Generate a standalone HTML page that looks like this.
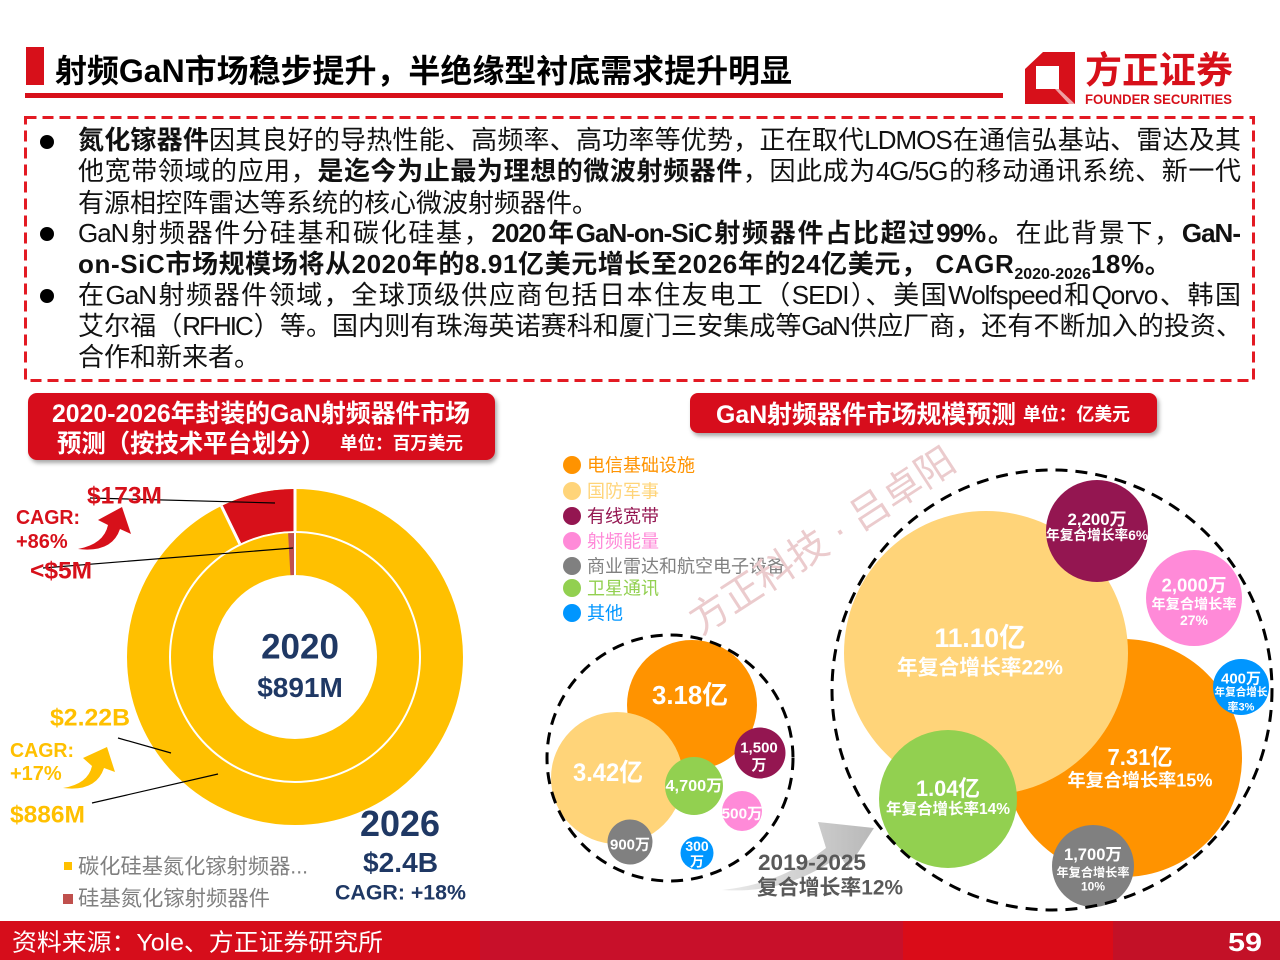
<!DOCTYPE html>
<html><head><meta charset="utf-8">
<style>
html,body{margin:0;padding:0;background:#fff;}
body{width:1280px;height:960px;position:relative;overflow:hidden;font-family:"Liberation Sans","Noto Sans CJK SC",sans-serif;}
svg{position:absolute;left:0;top:0;}
.ln{position:absolute;left:78px;width:1162px;height:31px;line-height:31px;font-size:26px;color:#111;white-space:normal;}
.j{text-align:justify;text-align-last:justify;letter-spacing:-1px;}
b{font-weight:700;}
.bul{position:absolute;left:40px;width:14px;height:14px;border-radius:50%;background:#000;}
.foot{position:absolute;left:0;top:921px;width:1280px;height:39px;background:linear-gradient(to right,#D60D1B 0,#D60D1B 480px,#C8102A 480px,#C8102A 903px,#DA0C18 903px,#DA0C18 1113px,#C31127 1113px);}
</style></head><body>
<div class="foot"></div>
<svg width="1280" height="960" viewBox="0 0 1280 960" font-family="Liberation Sans, Noto Sans CJK SC, sans-serif">
<defs>
<filter id="sh" x="-5%" y="-20%" width="110%" height="150%"><feDropShadow dx="2" dy="3" stdDeviation="2" flood-color="#000" flood-opacity="0.35"/></filter>
<linearGradient id="ag" x1="0" y1="0" x2="1" y2="0"><stop offset="0" stop-color="#ECECEC"/><stop offset="1" stop-color="#B8B8B8"/></linearGradient>
</defs>
<!-- header -->
<rect x="26" y="47" width="18" height="38" fill="#D7101A"/>
<text x="55" y="82" font-size="32" font-weight="700" fill="#000" textLength="737" lengthAdjust="spacingAndGlyphs">射频GaN市场稳步提升，半绝缘型衬底需求提升明显</text>
<rect x="25" y="93" width="978" height="5" fill="#D7101A"/>
<!-- logo -->
<polygon points="1043,52 1075,52 1075,104 1025,104 1025,69" fill="#D7101A"/>
<rect x="1036" y="66" width="23" height="23" fill="#fff"/>
<polygon points="1059,89 1075,104 1069,104 1055,89" fill="#fff" opacity="0.6"/>
<text x="1085" y="83" font-size="37" font-weight="700" fill="#D7101A" textLength="148" lengthAdjust="spacingAndGlyphs">方正证券</text>
<text x="1085" y="104" font-size="14" font-weight="700" fill="#D7101A" textLength="147" lengthAdjust="spacingAndGlyphs">FOUNDER SECURITIES</text>
<!-- dashed box -->
<rect x="25.5" y="117.5" width="1228" height="263" fill="none" stroke="#E31A23" stroke-width="3" stroke-dasharray="11 6"/>

<!-- left title box -->
<rect x="28" y="393" width="467" height="67" rx="9" fill="#D7101A" filter="url(#sh)"/>
<text x="52" y="422" font-size="25" font-weight="700" fill="#fff" textLength="418" lengthAdjust="spacingAndGlyphs">2020-2026年封装的GaN射频器件市场</text>
<text x="57" y="452" font-size="25" font-weight="700" fill="#fff" textLength="268" lengthAdjust="spacingAndGlyphs">预测（按技术平台划分）</text>
<text x="340" y="449.5" font-size="18" font-weight="700" fill="#fff" textLength="123" lengthAdjust="spacingAndGlyphs">单位：百万美元</text>

<!-- right title box -->
<rect x="690" y="393" width="467" height="40" rx="8" fill="#D7101A" filter="url(#sh)"/>
<text x="716" y="423" font-size="25" font-weight="700" fill="#fff" textLength="300" lengthAdjust="spacingAndGlyphs">GaN射频器件市场规模预测</text>
<text x="1023" y="420.5" font-size="18" font-weight="700" fill="#fff" textLength="107" lengthAdjust="spacingAndGlyphs">单位：亿美元</text>

<!-- donut -->
<circle cx="295" cy="657" r="147" fill="none" stroke="#FFC000" stroke-width="42"/>
<circle cx="295" cy="657" r="103" fill="none" stroke="#FFC000" stroke-width="42"/>
<path d="M295,489 L295,531 A126,126 0 0 0 239.8,543.8 L221.4,506 A168,168 0 0 1 295,489 Z" fill="#D7101A"/>
<line x1="295" y1="488" x2="295" y2="532" stroke="#fff" stroke-width="3"/>
<line x1="221.4" y1="506" x2="239.8" y2="543.8" stroke="#fff" stroke-width="3"/>
<path d="M295,533 L295,575 A82,82 0 0 0 290.4,575.1 L288.1,533.2 A124,124 0 0 1 295,533 Z" fill="#C0504D"/>
<line x1="295" y1="532" x2="295" y2="576" stroke="#fff" stroke-width="2"/>
<!-- leader lines -->
<line x1="90" y1="498" x2="275" y2="503" stroke="#000" stroke-width="1.2"/>
<line x1="43" y1="568" x2="293" y2="548" stroke="#000" stroke-width="1.2"/>
<line x1="118" y1="738" x2="171" y2="753" stroke="#000" stroke-width="1.2"/>
<line x1="92" y1="803" x2="218" y2="774" stroke="#000" stroke-width="1.2"/>
<!-- arrows -->
<path d="M78,549 Q104,544 108,525 L98,520 L122,507 L131,534 L120,529 Q112,553 78,549 Z" fill="#D7101A"/>
<path d="M63,788 Q88,784 92,766 L83,758 L107,747 L115,772 L104,768 Q96,792 63,788 Z" fill="#FFC000"/>
<!-- left labels -->
<text x="87" y="503.6" font-size="24" font-weight="700" fill="#D7101A" textLength="75" lengthAdjust="spacingAndGlyphs">$173M</text>
<text x="16" y="524" font-size="20" font-weight="700" fill="#D7101A" textLength="64" lengthAdjust="spacingAndGlyphs">CAGR:</text>
<text x="16" y="548" font-size="20" font-weight="700" fill="#D7101A">+86%</text>
<text x="30" y="578.6" font-size="24" font-weight="700" fill="#D7101A" textLength="62" lengthAdjust="spacingAndGlyphs">&lt;$5M</text>
<text x="50" y="725.6" font-size="24" font-weight="700" fill="#FFC000" textLength="80" lengthAdjust="spacingAndGlyphs">$2.22B</text>
<text x="10" y="757" font-size="20" font-weight="700" fill="#FFC000" textLength="64" lengthAdjust="spacingAndGlyphs">CAGR:</text>
<text x="10" y="780" font-size="20" font-weight="700" fill="#FFC000">+17%</text>
<text x="10" y="822.6" font-size="24" font-weight="700" fill="#FFC000" textLength="75" lengthAdjust="spacingAndGlyphs">$886M</text>
<text x="300" y="658.6" font-size="35" font-weight="700" fill="#1F3864" text-anchor="middle">2020</text>
<text x="300" y="697" font-size="28" font-weight="700" fill="#1F3864" text-anchor="middle">$891M</text>
<text x="360" y="836" font-size="36" font-weight="700" fill="#1F3864" textLength="80" lengthAdjust="spacingAndGlyphs">2026</text>
<text x="363" y="872" font-size="28" font-weight="700" fill="#1F3864" textLength="75" lengthAdjust="spacingAndGlyphs">$2.4B</text>
<text x="335" y="899.5" font-size="21" font-weight="700" fill="#1F3864" textLength="131" lengthAdjust="spacingAndGlyphs">CAGR: +18%</text>
<!-- left legend -->
<rect x="64" y="862" width="8" height="8" fill="#FFC000"/>
<text x="78" y="873.5" font-size="21" fill="#7F7F7F" textLength="230" lengthAdjust="spacingAndGlyphs">碳化硅基氮化镓射频器...</text>
<rect x="63" y="894" width="10" height="10" fill="#C0504D"/>
<text x="78" y="905.5" font-size="21" fill="#7F7F7F" textLength="192" lengthAdjust="spacingAndGlyphs">硅基氮化镓射频器件</text>

<!-- right legend -->
<g font-size="18">
<circle cx="572" cy="465" r="9" fill="#FF9300"/><text x="587" y="471.5" fill="#FF9300">电信基础设施</text>
<circle cx="572" cy="491" r="9" fill="#FFD479"/><text x="587" y="497.5" fill="#FFD479">国防军事</text>
<circle cx="572" cy="516" r="9" fill="#941651"/><text x="587" y="522.5" fill="#941651">有线宽带</text>
<circle cx="572" cy="541" r="9" fill="#FF8AD8"/><text x="587" y="547.5" fill="#FF8AD8">射频能量</text>
<circle cx="572" cy="566" r="9" fill="#808080"/><text x="587" y="572.5" fill="#808080">商业雷达和航空电子设备</text>
<circle cx="572" cy="588" r="9" fill="#92D050"/><text x="587" y="594.5" fill="#92D050">卫星通讯</text>
<circle cx="572" cy="613" r="9" fill="#0096FF"/><text x="587" y="619.5" fill="#0096FF">其他</text>
</g>

<!-- watermark -->
<text x="822" y="554" font-size="39" fill="#EBCBCD" text-anchor="middle" transform="rotate(-33 822 540)">方正科技 · 吕卓阳</text>

<!-- left cluster -->
<circle cx="692" cy="705" r="65" fill="#FF9300"/>
<circle cx="617" cy="778" r="66" fill="#FFD479"/>
<circle cx="694" cy="786" r="29" fill="#92D050"/>
<circle cx="760" cy="753" r="25.5" fill="#941651"/>
<circle cx="742" cy="811" r="20" fill="#FF8AD8"/>
<circle cx="630" cy="842" r="22.5" fill="#808080"/>
<circle cx="697" cy="853" r="16.5" fill="#0096FF"/>
<circle cx="670" cy="758" r="123" fill="none" stroke="#000" stroke-width="3" stroke-dasharray="12 8"/>
<g fill="#fff" font-weight="700" text-anchor="middle">
<text x="690" y="704" font-size="26" textLength="76" lengthAdjust="spacingAndGlyphs">3.18亿</text>
<text x="608" y="781" font-size="25" textLength="70" lengthAdjust="spacingAndGlyphs">3.42亿</text>
<text x="694" y="791" font-size="16" textLength="57" lengthAdjust="spacingAndGlyphs">4,700万</text>
<text x="759" y="752.5" font-size="15">1,500</text>
<text x="759" y="770" font-size="15">万</text>
<text x="742" y="818.5" font-size="15" textLength="41" lengthAdjust="spacingAndGlyphs">500万</text>
<text x="630" y="849.5" font-size="15" textLength="40" lengthAdjust="spacingAndGlyphs">900万</text>
<text x="697" y="851" font-size="14">300</text>
<text x="697" y="866.5" font-size="14">万</text>
</g>

<!-- gray arrow -->
<path d="M722,890 C770,885 800,868 826,848 L818,822 L874,828 L848,868 L840,856 C805,880 770,893 722,890 Z" fill="url(#ag)"/>
<text x="758" y="870" font-size="22" font-weight="700" fill="#595959" textLength="108" lengthAdjust="spacingAndGlyphs">2019-2025</text>
<text x="757" y="894.5" font-size="21" font-weight="700" fill="#595959" textLength="146" lengthAdjust="spacingAndGlyphs">复合增长率12%</text>

<!-- right cluster -->
<circle cx="1123" cy="758" r="119" fill="#FF9300"/>
<circle cx="986" cy="653" r="142" fill="#FFD479"/>
<circle cx="948" cy="799" r="69" fill="#92D050"/>
<circle cx="1097" cy="531" r="51" fill="#941651"/>
<circle cx="1194" cy="598" r="48" fill="#FF8AD8"/>
<circle cx="1241" cy="687" r="28" fill="#0096FF"/>
<circle cx="1093" cy="866" r="41" fill="#808080"/>
<circle cx="1052" cy="690" r="220" fill="none" stroke="#000" stroke-width="3" stroke-dasharray="12 8"/>
<g fill="#fff" font-weight="700" text-anchor="middle">
<text x="980" y="647" font-size="27" textLength="91" lengthAdjust="spacingAndGlyphs">11.10亿</text>
<text x="980" y="674.5" font-size="21" textLength="166" lengthAdjust="spacingAndGlyphs">年复合增长率22%</text>
<text x="1140" y="765" font-size="23" textLength="65" lengthAdjust="spacingAndGlyphs">7.31亿</text>
<text x="1140" y="786.5" font-size="18" textLength="145" lengthAdjust="spacingAndGlyphs">年复合增长率15%</text>
<text x="948" y="796" font-size="22" textLength="64" lengthAdjust="spacingAndGlyphs">1.04亿</text>
<text x="948" y="814" font-size="15.5" textLength="124" lengthAdjust="spacingAndGlyphs">年复合增长率14%</text>
<text x="1097" y="525" font-size="17" textLength="59" lengthAdjust="spacingAndGlyphs">2,200万</text>
<text x="1097" y="540" font-size="14" textLength="102" lengthAdjust="spacingAndGlyphs">年复合增长率6%</text>
<text x="1194" y="591.5" font-size="18" textLength="65" lengthAdjust="spacingAndGlyphs">2,000万</text>
<text x="1194" y="609" font-size="14" textLength="85" lengthAdjust="spacingAndGlyphs">年复合增长率</text>
<text x="1194" y="625" font-size="14">27%</text>
<text x="1241" y="683.5" font-size="15" textLength="40" lengthAdjust="spacingAndGlyphs">400万</text>
<text x="1241" y="695.5" font-size="11" textLength="53" lengthAdjust="spacingAndGlyphs">年复合增长</text>
<text x="1241" y="710.5" font-size="11">率3%</text>
<text x="1093" y="860" font-size="16.5" textLength="58" lengthAdjust="spacingAndGlyphs">1,700万</text>
<text x="1093" y="876.5" font-size="12" textLength="73" lengthAdjust="spacingAndGlyphs">年复合增长率</text>
<text x="1093" y="890.5" font-size="12">10%</text>
</g>

<!-- footer text -->
<text x="12" y="950.6" font-size="24" fill="#fff" textLength="371" lengthAdjust="spacingAndGlyphs">资料来源：Yole、方正证券研究所</text>
<text x="1228" y="951" font-size="26" font-weight="700" fill="#fff" textLength="34" lengthAdjust="spacingAndGlyphs">59</text>
</svg>

<!-- paragraph -->
<div class="bul" style="top:135px"></div>
<div class="bul" style="top:227px"></div>
<div class="bul" style="top:289px"></div>
<div class="ln j" style="top:125px"><b>氮化镓器件</b>因其良好的导热性能、高频率、高功率等优势，正在取代LDMOS在通信弘基站、雷达及其</div>
<div class="ln j" style="top:156px">他宽带领域的应用，<b>是迄今为止最为理想的微波射频器件</b>，因此成为4G/5G的移动通讯系统、新一代</div>
<div class="ln" style="top:188px">有源相控阵雷达等系统的核心微波射频器件。</div>
<div class="ln j" style="top:218px">GaN射频器件分硅基和碳化硅基，<b>2020年GaN-on-SiC射频器件占比超过99%。</b>在此背景下，<b>GaN-</b></div>
<div class="ln" style="top:249px;letter-spacing:0.6px;"><b>on-SiC市场规模场将从2020年的8.91亿美元增长至2026年的24亿美元， CAGR<span style="font-size:16px;vertical-align:-6px;letter-spacing:0">2020-2026</span>18%。</b></div>
<div class="ln j" style="top:280px">在GaN射频器件领域，全球顶级供应商包括日本住友电工（SEDI）、美国Wolfspeed和Qorvo、韩国</div>
<div class="ln j" style="top:311px;letter-spacing:-2px;">艾尔福（RFHIC）等。国内则有珠海英诺赛科和厦门三安集成等GaN供应厂商，还有不断加入的投资、</div>
<div class="ln" style="top:342px">合作和新来者。</div>
</body></html>
